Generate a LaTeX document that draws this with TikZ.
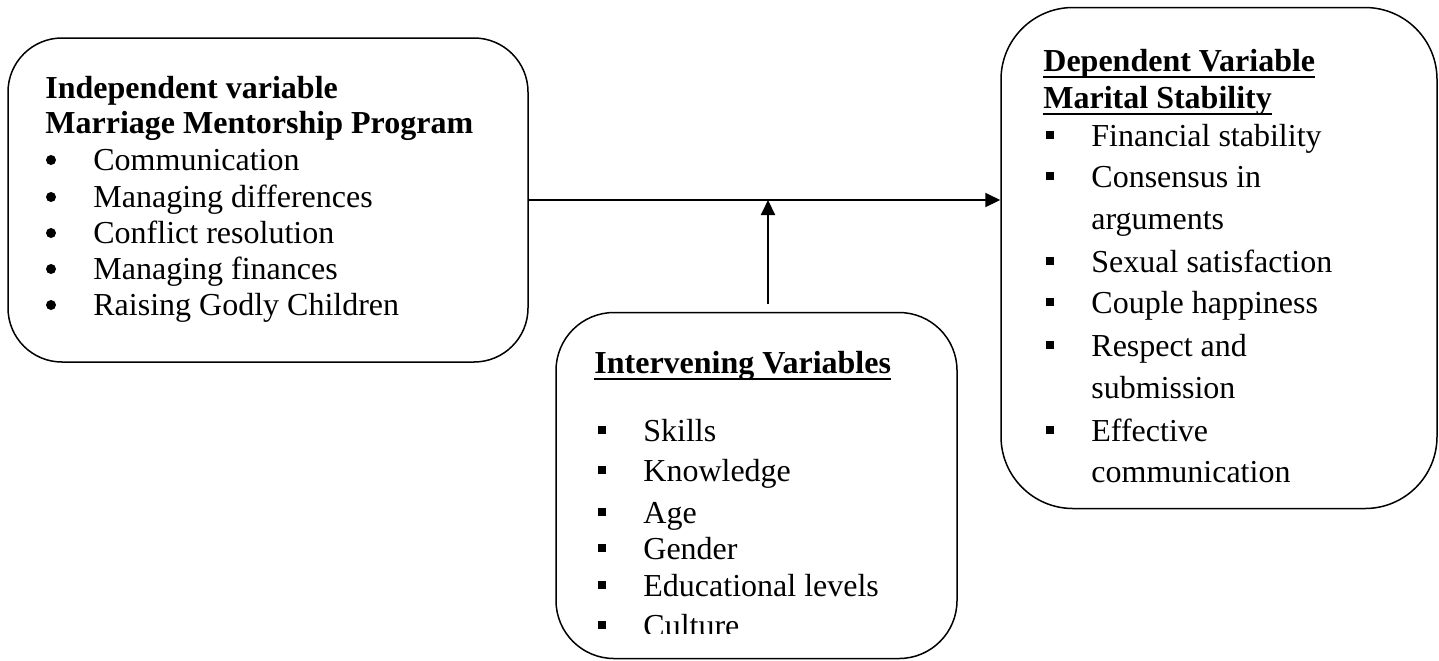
\documentclass[tikz,border=0pt]{standalone}
\usepackage{fontspec}
\setmainfont{Liberation Serif}
\usetikzlibrary{arrows.meta}

\newsavebox{\ulsave}
\newcommand{\ulhead}[1]{\sbox{\ulsave}{#1}\rlap{\rule[-3.6pt]{\wd\ulsave}{1.2pt}}\usebox{\ulsave}}
\newcommand{\diagfont}{\fontsize{16}{19}\selectfont}
\newcommand{\sqbul}{\llap{\raisebox{3.5pt}{\rule{4pt}{4pt}}\hspace{18.5pt}}}

\begin{document}
\begin{tikzpicture}[x=0.5pt, y=-0.5pt,
    box/.style={draw, line width=0.75pt, inner sep=0pt},
    head/.style={anchor=base west, inner sep=0pt, font=\diagfont\bfseries},
    item/.style={anchor=base west, inner sep=0pt, font=\diagfont},
    arr/.style={-{Triangle[length=7.5pt,width=7pt]}, line width=1pt}
  ]
  \useasboundingbox (0,0) rectangle (1439,660);

  % the three boxes
  \node[box, rounded corners=27pt, minimum width=260pt, minimum height=162pt] (ind) at (268,200) {};
  \node[box, rounded corners=29pt, minimum width=200.5pt, minimum height=173pt] (iv) at (756.5,485.5) {};
  \node[box, rounded corners=36pt, minimum width=218pt, minimum height=250.5pt] (dep) at (1219,258) {};

  % independent variable
  \node[head] (indh1) at (45,98) {Independent variable};
  \node[head] (indh2) at (45,133) {Marriage Mentorship Program};
  \foreach \y/\t [count=\i] in {170/Communication, 207/Managing differences,
      243/Conflict resolution, 279/Managing finances, 315/Raising Godly Children}{
    \fill (51,\y-10) circle (2.5pt);
    \node[item] (ind\i) at (93,\y) {\t};
  }

  % intervening variables (last line cut by the box)
  \node[head] (ivh) at (594,373) {\ulhead{Intervening Variables}};
  \begin{scope}
    \clip (556,313) rectangle (957,633);
    \foreach \y/\t [count=\i] in {441/Skills, 481/Knowledge, 523/Age, 559/Gender,
        596/Educational levels, 636/Culture}
      \node[item] (iv\i) at (643,\y) {\sqbul\t};
  \end{scope}

  % dependent variable
  \node[head] (deph1) at (1043,71) {\ulhead{Dependent Variable}};
  \node[head] (deph2) at (1043,108) {\ulhead{Marital Stability}};
  \foreach \y/\b/\t [count=\i] in {146/\sqbul/Financial stability, 187/\sqbul/Consensus in,
      229//arguments, 272/\sqbul/Sexual satisfaction, 313/\sqbul/Couple happiness,
      356/\sqbul/Respect and, 398//submission, 441/\sqbul/Effective, 482//communication}
    \node[item] (dep\i) at (1091,\y) {\b\t};

  % connectors
  \coordinate (ivtop) at (768,304);
  \draw[arr] (ind.east) -- (ind.east -| dep.west);
  \draw[arr] (ivtop) -- (ivtop |- ind.east);
\end{tikzpicture}
\end{document}
